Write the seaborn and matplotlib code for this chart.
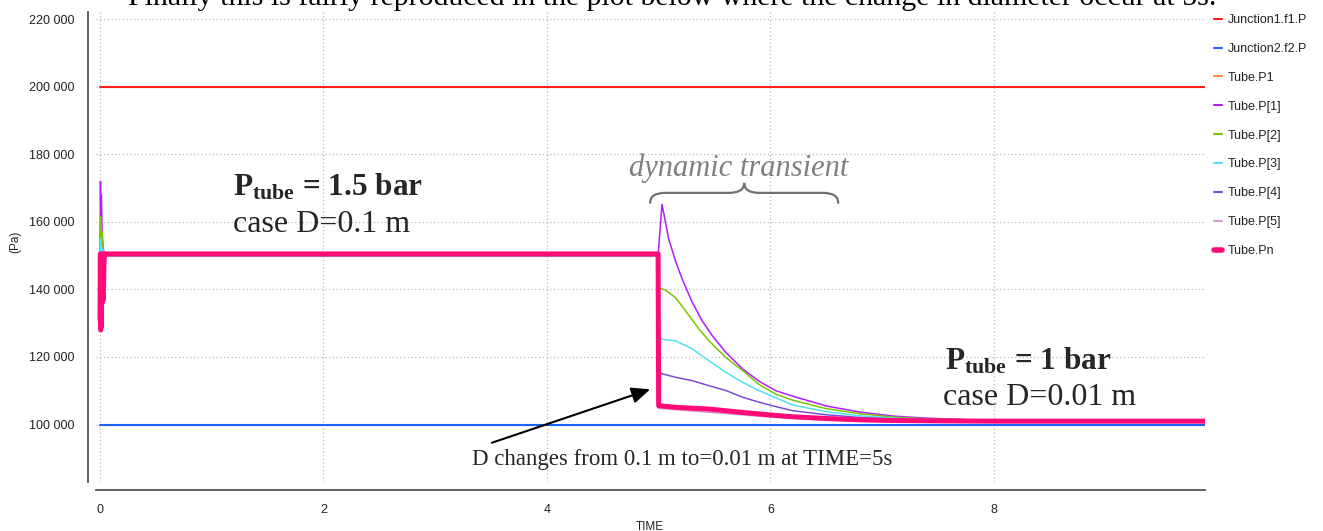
import matplotlib
matplotlib.use("Agg")
import matplotlib.pyplot as plt
from matplotlib.ticker import MultipleLocator, FuncFormatter
from matplotlib.path import Path
from matplotlib.patches import PathPatch
from matplotlib.lines import Line2D
import seaborn as sns
import pandas as pd

# ---------------------------------------------------------------- data
junction1_t = [0.0, 9.9]
junction1_p = [200000, 200000]

junction2_t = [0.0, 9.9]
junction2_p = [100000, 100000]

tube_p1_t = [0.0, 4.995, 5.0, 6.0, 7.0, 9.9]
tube_p1_p = [150000, 150000, 105500, 102800, 101200, 101000]

tube_p_1_t = [0.0, 0.004, 0.008, 0.012, 0.02, 0.03, 0.04, 4.995, 5.03, 5.09,
              5.15, 5.21, 5.30, 5.39, 5.48, 5.60, 5.75, 5.90, 6.05, 6.20,
              6.50, 6.80, 7.10, 7.40, 7.80, 8.30, 9.9]
tube_p_1_p = [150000, 172000, 160000, 168000, 155000, 152000, 150000, 150000,
              165200, 154900, 148500, 143100, 136200, 130700, 126300, 121400,
              116500, 112800, 110000, 108400, 105500, 103700, 102500, 101900,
              101400, 101200, 101200]

tube_p_2_t = [0.0, 0.005, 0.01, 0.02, 0.03, 0.04, 4.995, 5.0, 5.06, 5.15,
              5.24, 5.36, 5.45, 5.60, 5.75, 5.90, 6.05, 6.20, 6.50, 6.80,
              7.10, 7.40, 7.80, 8.30, 9.9]
tube_p_2_p = [150000, 161500, 153000, 157000, 151000, 150000, 150000, 140500,
              139800, 137600, 133700, 128300, 124800, 119900, 116000, 111800,
              109000, 107200, 104700, 103200, 102200, 101700, 101300, 101200,
              101200]

tube_p_3_t = [0.0, 0.005, 0.01, 0.02, 0.04, 4.995, 5.0, 5.15, 5.30, 5.45,
              5.60, 5.75, 5.90, 6.05, 6.20, 6.50, 6.80, 7.10, 7.40, 7.80,
              8.30, 9.9]
tube_p_3_p = [150000, 155000, 151000, 152000, 150000, 150000, 125300, 124800,
              122400, 118900, 115500, 112500, 110000, 107900, 105800, 103800,
              102600, 101900, 101500, 101200, 101100, 101100]

tube_p_4_t = [0.0, 4.995, 5.0, 5.15, 5.30, 5.45, 5.60, 5.75, 5.90, 6.05,
              6.20, 6.50, 6.80, 7.10, 7.40, 8.00, 9.9]
tube_p_4_p = [150000, 150000, 115300, 114000, 113000, 111500, 110100, 108100,
              106600, 105300, 104100, 102900, 102100, 101600, 101300, 101100,
              101100]

tube_p_5_t = [0.0, 4.995, 5.0, 5.5, 6.0, 6.5, 7.0, 7.5, 9.9]
tube_p_5_p = [150000, 150000, 104800, 103500, 102200, 101300, 100900, 100800,
              100800]

tube_pn_t = [0.0, 0.003, 0.006, 0.009, 0.012, 0.016, 0.02, 0.025, 0.03, 0.035,
             0.04, 4.995, 5.0, 5.03, 5.15, 5.45, 5.75, 6.05, 6.20, 6.50, 6.80,
             7.10, 7.50, 8.00, 9.9]
tube_pn_p = [131000, 150500, 128000, 146000, 129000, 150500, 136000, 150500,
             137000, 147000, 150500, 150500, 105600, 105500, 105100, 104600,
             103600, 102700, 102300, 101800, 101400, 101200, 101100, 101000,
             101000]

series_names = ["Junction1.f1.P", "Junction2.f2.P", "Tube.P1", "Tube.P[1]",
                "Tube.P[2]", "Tube.P[3]", "Tube.P[4]", "Tube.P[5]", "Tube.Pn"]
series_data = [
    (junction1_t, junction1_p), (junction2_t, junction2_p),
    (tube_p1_t, tube_p1_p), (tube_p_1_t, tube_p_1_p),
    (tube_p_2_t, tube_p_2_p), (tube_p_3_t, tube_p_3_p),
    (tube_p_4_t, tube_p_4_p), (tube_p_5_t, tube_p_5_p),
    (tube_pn_t, tube_pn_p),
]
series_colors = ["#ff1f1f", "#1c64f2", "#ff8a3d", "#b21cff", "#7dc400",
                 "#4fe3f2", "#7a4bd6", "#d79ad0", "#ff0a78"]
series_widths = [1.5, 1.5, 1.1, 1.1, 1.1, 1.1, 1.1, 1.1, 3.6]

# ---------------------------------------------------------------- style
sns.set_style("white")
plt.rcParams["font.family"] = ["Liberation Sans", "DejaVu Sans"]
plt.rcParams["mathtext.fontset"] = "custom"
plt.rcParams["mathtext.rm"] = "Liberation Serif"
plt.rcParams["mathtext.bf"] = "Liberation Serif:bold"
plt.rcParams["mathtext.it"] = "Liberation Serif:italic"

W, H = 1323, 531
fig = plt.figure(figsize=(W / 100, H / 100), dpi=100)
ax = fig.add_axes([96 / W, 1 - 482 / H, (1205 - 96) / W, (482 - 12) / H])

for name, (t, p), col, lw in zip(series_names, series_data, series_colors,
                                 series_widths):
    df = pd.DataFrame({"TIME": t, "P": p})
    sns.lineplot(data=df, x="TIME", y="P", ax=ax, color=col, lw=lw,
                 estimator=None, sort=False, legend=False)

ax.set_xlim(-0.036, 9.89)
ax.set_ylim(83000, 222100)
ax.set_xlabel("")
ax.set_ylabel("")

ax.xaxis.set_major_locator(MultipleLocator(2))
ax.xaxis.set_minor_locator(MultipleLocator(0.5))
ax.yaxis.set_major_locator(MultipleLocator(20000))
ax.yaxis.set_minor_locator(MultipleLocator(5000))
ax.yaxis.set_major_formatter(
    FuncFormatter(lambda v, _: f"{int(round(v)):,}".replace(",", " ")))

ax.grid(True, which="major", linestyle=(0, (1, 2)), color="#b8b8b8", lw=0.9)
ax.set_axisbelow(True)

sns.despine(ax=ax, offset={"left": 6, "bottom": 6})
for side in ("left", "bottom"):
    ax.spines[side].set_color("#555555")
    ax.spines[side].set_linewidth(1.3)
ax.tick_params(axis="both", which="major", length=6, width=1.1,
               color="#555555", labelsize=9, labelcolor="#222222",
               direction="out")
ax.tick_params(axis="both", which="minor", length=3.5, width=1.0,
               color="#555555", direction="out")

# axis titles
fig.text(15 / W, 1 - 242 / H, "(Pa)", rotation=90, ha="center", va="center",
         fontsize=8.5, color="#222222")
fig.text(650 / W, 0.002, "TIME", ha="center", va="baseline",
         fontsize=8.5, color="#222222")

# legend
handles = [Line2D([], [], color=c, lw=(4 if lw > 2 else 1.5))
           for c, lw in zip(series_colors, series_widths)]
fig.legend(handles, series_names, loc="upper left",
           bbox_to_anchor=(1209 / W, 1 - 9 / H), frameon=False, fontsize=9,
           handlelength=0.6, handletextpad=0.5, labelspacing=1.35,
           borderaxespad=0, labelcolor="#222222")

# ---------------------------------------------------------------- notes
serif = ["Liberation Serif", "DejaVu Serif"]

fig.text(128 / W, 1 - 5 / H,
         "Finally this is fairly reproduced in the plot below where the change "
         "in diameter occur at 5s.",
         fontsize=21.5, family=serif, va="baseline", ha="left", color="black")

fig.text(233 / W, 1 - 195 / H, r"$\mathbf{P_{tube}}$ = 1.5 bar",
         fontsize=22.5, family=serif, weight="bold", va="baseline", ha="left")
fig.text(233 / W, 1 - 232 / H, "case D=0.1 m", fontsize=23, family=serif,
         va="baseline", ha="left")

fig.text(945 / W, 1 - 370 / H, r"$\mathbf{P_{tube}}$ = 1 bar",
         fontsize=22.5, family=serif, weight="bold", va="baseline", ha="left")
fig.text(943 / W, 1 - 405 / H, "case D=0.01 m", fontsize=23, family=serif,
         va="baseline", ha="left")

fig.text(629 / W, 1 - 176 / H, "dynamic transient", fontsize=22,
         family=serif, style="italic", color="#808080", va="baseline",
         ha="left")


def curly_brace(axis, x0, x1, y_tip, y_mid, y_end, color, lw):
    """Horizontal brace opening downwards, tip pointing up."""
    xc = 0.5 * (x0 + x1)
    r = 0.08 * (x1 - x0)
    verts = [(x0, y_end), (x0, y_mid), (x0 + r, y_mid),
             (xc - r, y_mid), (xc, y_mid), (xc, y_tip),
             (xc, y_mid), (xc + r, y_mid),
             (x1 - r, y_mid), (x1, y_mid), (x1, y_end)]
    codes = [Path.MOVETO, Path.CURVE3, Path.CURVE3,
             Path.LINETO, Path.CURVE3, Path.CURVE3,
             Path.CURVE3, Path.CURVE3,
             Path.LINETO, Path.CURVE3, Path.CURVE3]
    axis.add_patch(PathPatch(Path(verts, codes), fill=False, color=color,
                             lw=lw, clip_on=False, capstyle="round"))


curly_brace(ax, 4.924, 6.607, 171530, 168570, 165610, "#707070", 1.6)

ax.annotate("", xy=(4.924, 110430), xytext=(3.507, 94610),
            arrowprops=dict(arrowstyle="-|>,head_length=0.8,head_width=0.35",
                            mutation_scale=14, color="black", lw=1.5,
                            shrinkA=0, shrinkB=0))
fig.text(472 / W, 1 - 465 / H, "D changes from 0.1 m to=0.01 m at TIME=5s",
         fontsize=16.5, family=serif, va="baseline", ha="left")

fig.savefig("out.png", dpi=100)
